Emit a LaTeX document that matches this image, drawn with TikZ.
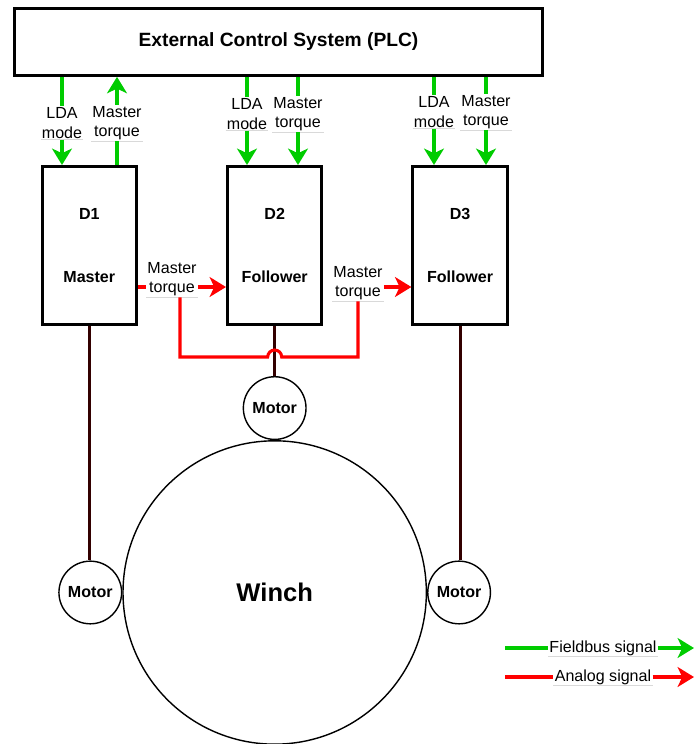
\documentclass[tikz,border=0pt]{standalone}
\usepackage{fontspec}
\setmainfont{Liberation Sans}
\usetikzlibrary{arrows.meta,positioning,calc}
\definecolor{busgreen}{RGB}{0,204,0}
\definecolor{shaftbrown}{RGB}{51,0,0}
\newcommand{\sigfont}{\fontsize{13.7}{16.5}\selectfont}
\tikzstyle{drive} = [draw, rectangle, line width=2.6pt, minimum width=2.83cm, minimum height=4.74cm, align=center, inner sep=0pt, font=\sigfont\bfseries]
\tikzstyle{motor} = [draw, circle, line width=1.2pt, minimum size=1.88cm, inner sep=0pt, font=\sigfont\bfseries]
\tikzstyle{lbl} = [fill=white, align=center, inner sep=1pt, font=\sigfont, append after command={(\tikzlastnode.south west) edge[draw=black!15, line width=0.8pt] (\tikzlastnode.south east)}]
\tikzstyle{fieldbus} = [draw=busgreen, line width=2.6pt]
\tikzstyle{analog} = [draw=red, line width=2.6pt]
\tikzstyle{shaft} = [draw=shaftbrown, line width=2.6pt]
\tikzstyle{line} = [-{Stealth[length=14pt, width=17pt, inset=4pt]}]

\begin{document}
\begin{tikzpicture}[x=0.03cm, y=-0.03cm]
    \useasboundingbox (0,0) rectangle (694,744);

    \node [draw, rectangle, line width=2.6pt, minimum width=15.84cm, minimum height=2.0cm, font=\fontsize{16.4}{19}\selectfont\bfseries] (plc) at (278.5,42) {External Control System (PLC)};

    \node [drive] (d1) at (89.3,245.5) {D1\\[37.3pt]Master};
    \node [drive, right=2.64cm of d1] (d2) {D2\\[37.3pt]Follower};
    \node [drive, right=2.64cm of d2] (d3) {D3\\[37.3pt]Follower};

    \node [motor, below=1.5cm of d2] (m2) {Motor};
    \node [draw, circle, line width=1.2pt, minimum size=9.1cm, inner sep=0pt, font=\fontsize{21.8}{26}\selectfont\bfseries, below=0cm of m2] (winch) {Winch};
    \node [motor, left=0cm of winch] (m1) {Motor};
    \node [motor, right=0cm of winch] (m3) {Motor};

    % fieldbus labels
    \node [lbl] (lda1) at (62,123) {LDA\\mode};
    \node [lbl] (mt1) at (117,123) {Master\\torque};
    \node [lbl] (lda2) at (247,114) {LDA\\mode};
    \node [lbl] (mt2) at (298,114) {Master\\torque};
    \node [lbl] (lda3) at (434,112) {LDA\\mode};
    \node [lbl] (mt3) at (486,112) {Master\\torque};

    % analog labels
    \node [lbl] (amt1) at (172,279) {Master\\torque};
    \node [lbl] (amt2) at (358,283) {Master\\torque};

    \path [fieldbus] (plc.south -| lda1) -- (lda1.north);
    \path [fieldbus, line] (lda1.south) -- (d1.north -| lda1);
    \path [fieldbus] (d1.north -| mt1) -- (mt1.south);
    \path [fieldbus, line] (mt1.north) -- (plc.south -| mt1);

    \path [fieldbus] (plc.south -| lda2) -- (lda2.north);
    \path [fieldbus, line] (lda2.south) -- (d2.north -| lda2);
    \path [fieldbus] (plc.south -| mt2) -- (mt2.north);
    \path [fieldbus, line] (mt2.south) -- (d2.north -| mt2);

    \path [fieldbus] (plc.south -| lda3) -- (lda3.north);
    \path [fieldbus, line] (lda3.south) -- (d3.north -| lda3);
    \path [fieldbus] (plc.south -| mt3) -- (mt3.north);
    \path [fieldbus, line] (mt3.south) -- (d3.north -| mt3);

    \path [shaft] (d1.south) -- (d1.south |- m1.north);
    \path [shaft] (d2.south) -- (m2.north);
    \path [shaft] (d3.south) -- (d3.south |- m3.north);

    \coordinate (rl) at (0,287);
    \coordinate (br) at (180,357);
    \coordinate (hop) at (d2.south |- br);
    \path [analog] (d1.east |- rl) -- (amt1.west |- rl);
    \path [analog, line] (amt1.east |- rl) -- (d2.west |- rl);
    \path [analog] (amt1.south -| br) -- (br) -- ([xshift=-0.21cm]hop) arc [start angle=180, end angle=0, radius=0.21cm] -| (amt2.south);
    \path [analog, line] (amt2.east |- rl) -- (d3.west |- rl);

    % legend
    \coordinate (fb0) at (505,648);
    \coordinate (fb1) at (694,648);
    \coordinate (an0) at (505,677);
    \coordinate (an1) at (694,677);
    \node [lbl] (fb) at (603,648) {Fieldbus signal};
    \node [lbl] (an) at (603,677) {Analog signal};
    \path [fieldbus] (fb0) -- (fb.west);
    \path [fieldbus, line] (fb.east) -- (fb1);
    \path [analog] (an0) -- (an.west);
    \path [analog, line] (an.east) -- (an1);
\end{tikzpicture}
\end{document}
